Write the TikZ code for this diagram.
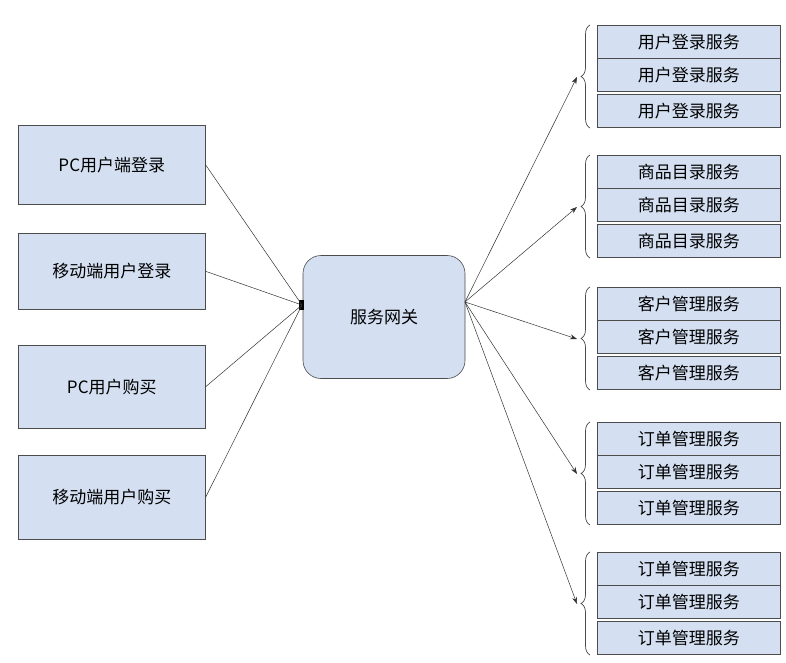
\documentclass[tikz,border=0pt]{standalone}
\usepackage{fontspec}
\setmainfont{Noto Sans CJK SC}
\usetikzlibrary{decorations.pathreplacing,arrows.meta}
\definecolor{bxfill}{RGB}{212,224,242}
\begin{document}
\begin{tikzpicture}[x=1pt,y=-1pt,
  box/.style={draw=black!70,fill=bxfill,line width=0.6pt,inner sep=0pt,font=\fontsize{17}{17}\selectfont},
  svc/.style={box,minimum width=183pt,minimum height=33pt,anchor=north west},
  conn/.style={draw=black!80,line width=0.5pt},
  br/.style={decorate,decoration={brace,amplitude=9pt},draw=black!70,line width=0.7pt}]
\useasboundingbox (0,0) rectangle (786,663);
\fill[white] (0,0) rectangle (786,663);
\node[box,minimum width=187pt,minimum height=79pt,anchor=north west] (l1) at (18,125) {PC用户端登录};
\node[box,minimum width=187pt,minimum height=76pt,anchor=north west] (l2) at (18,233) {移动端用户登录};
\node[box,minimum width=187pt,minimum height=83pt,anchor=north west] (l3) at (18,345) {PC用户购买};
\node[box,minimum width=187pt,minimum height=84pt,anchor=north west] (l4) at (18,455) {移动端用户购买};
\node[box,rounded corners=18pt,minimum width=162pt,minimum height=123pt] (gw) at (384,317) {服务网关};
\coordinate (gin) at (302,305);
\coordinate (gout) at (465,302);
\fill[black] (gin) ++(-3,-5) rectangle ++(5,10);
\foreach \n in {l1,l2,l3,l4} \draw[conn] (\n.east) -- (gin);
\foreach \g/\t/\y in {1/用户登录服务/25,2/商品目录服务/155,3/客户管理服务/287,4/订单管理服务/422,5/订单管理服务/552}{
  \node[svc] (s\g a) at (597,\y) {\t};
  \node[svc] (s\g b) at (597,\y+33) {\t};
  \node[svc] (s\g c) at (597,\y+69) {\t};
  \draw[br] (590,\y+103) -- (590,\y);
  \coordinate (t\g) at (577,\y+52);
  \draw[conn,-{Stealth[length=7pt,width=5pt]}] (gout) -- (t\g);
}
\end{tikzpicture}
\end{document}
